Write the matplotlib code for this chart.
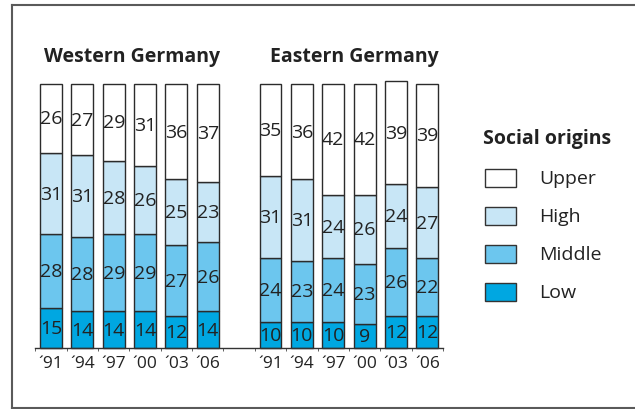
import matplotlib.pyplot as plt
from matplotlib.patches import Rectangle
from matplotlib.lines import Line2D

plt.rcParams['font.family'] = ['Open Sans', 'DejaVu Sans']

years = ["´91", "´94", "´97", "´00", "´03", "´06"]
levels = ["Low", "Middle", "High", "Upper"]
colors = ["#00a7e1", "#6cc6ee", "#c8e6f6", "#ffffff"]

west_low = [15, 14, 14, 14, 12, 14]
west_middle = [28, 28, 29, 29, 27, 26]
west_high = [31, 31, 28, 26, 25, 23]
west_upper = [26, 27, 29, 31, 36, 37]

east_low = [10, 10, 10, 9, 12, 12]
east_middle = [24, 23, 24, 23, 26, 22]
east_high = [31, 31, 24, 26, 24, 27]
east_upper = [35, 36, 42, 42, 39, 39]

W, H = 635, 410
fig = plt.figure(figsize=(W / 100, H / 100), dpi=100)

# frame around the figure (left, top, bottom)
for xs, ys in [([12, 12], [6, 409]), ([12, 635], [6, 6]), ([12, 635], [409, 409])]:
    fig.add_artist(Line2D([x / W for x in xs], [1 - y / H for y in ys],
                          color="#5a5a5a", lw=1.5))

ax = fig.add_axes([35 / W, (H - 349) / H, (443 - 35) / W, (349 - 85) / H])
step = 31.4
ax.set_xlim((35 - 51) / step, (443 - 51) / step)
ax.set_ylim(0, 100)

groups = [
    ([0, 1, 2, 3, 4, 5], [west_low, west_middle, west_high, west_upper]),
    ([7, 8, 9, 10, 11, 12], [east_low, east_middle, east_high, east_upper]),
]

for xs, series in groups:
    bottom = [0] * len(xs)
    for vals, c in zip(series, colors):
        ax.bar(xs, vals, bottom=bottom, width=0.7, color=c,
               edgecolor="#2b2b2b", linewidth=1.0, clip_on=False)
        for x, b, v in zip(xs, bottom, vals):
            ax.text(x, b + v / 2, str(v), ha="center", va="center",
                    fontsize=14, color="#222222")
        bottom = [b + v for b, v in zip(bottom, vals)]

ticks = list(range(6)) + list(range(7, 13))
ax.set_xticks(ticks)
ax.set_xticklabels(years + years, fontsize=12.5, color="#222222")
ax.set_xticks([t + 0.5 for t in range(-1, 13)], minor=True)
ax.tick_params(axis="x", which="major", length=0, pad=5)
ax.tick_params(axis="x", which="minor", length=2, color="#444444")
ax.set_yticks([])
for s in ["left", "right", "top"]:
    ax.spines[s].set_visible(False)
ax.spines["bottom"].set_color("#333333")
ax.spines["bottom"].set_linewidth(1.0)

fig.text(132 / W, 1 - 57 / H, "Western Germany", ha="center", va="center",
         fontsize=14, fontweight="bold", color="#222222")
fig.text(354 / W, 1 - 57 / H, "Eastern Germany", ha="center", va="center",
         fontsize=14, fontweight="bold", color="#222222")

# legend
fig.text(483 / W, 1 - 139 / H, "Social origins", ha="left", va="center",
         fontsize=14, fontweight="bold", color="#222222")
legend_y = [179, 217, 255, 293]
for y, lab, c in zip(legend_y, levels[::-1], colors[::-1]):
    fig.add_artist(Rectangle((485 / W, 1 - (y + 9) / H), 31 / W, 18 / H,
                             facecolor=c, edgecolor="#333333", lw=1.0,
                             transform=fig.transFigure))
    fig.text(539 / W, 1 - y / H, lab, ha="left", va="center",
             fontsize=14, color="#222222")

fig.savefig("out.png", dpi=100)
